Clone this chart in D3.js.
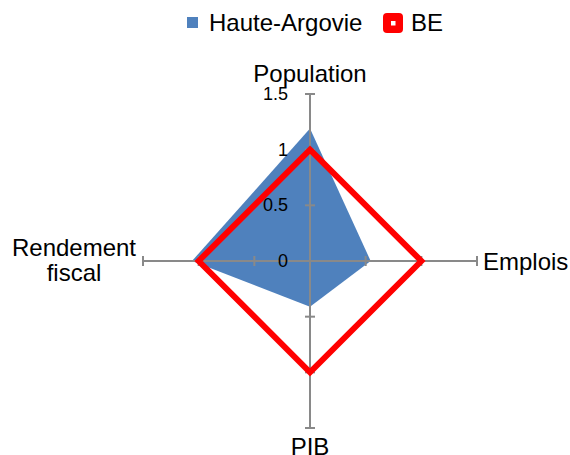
<!DOCTYPE html>
<html><head><meta charset="utf-8">
<script src="https://cdn.jsdelivr.net/npm/d3@7"></script>
<style>body{margin:0;background:#fff}svg{display:block}text{font-family:"Liberation Sans",Arial,sans-serif;fill:#000}</style>
</head><body>
<svg id="c" width="570" height="455"></svg>
<script>
const axes = ["Population", "Emplois", "PIB", "Rendement fiscal"];
const hauteArgovie = [1.19, 0.545, 0.41, 1.06];
const be = [1, 1, 1, 1];
const ticks = [0, 0.5, 1, 1.5];
const seriesNames = ["Haute-Argovie", "BE"];

const svg = d3.select("#c");
const cx = 310, cy = 261, R = 167;
const r = d3.scaleLinear().domain([0, 1.5]).range([0, R]);
const ang = d3.scalePoint().domain(axes).range([0, 2*Math.PI*(axes.length-1)/axes.length]);
const pt = (a, v) => [cx + r(v)*Math.sin(ang(a)), cy - r(v)*Math.cos(ang(a))];

const g = svg.append("g");
const line = d3.line().curve(d3.curveLinearClosed);
g.append("path").attr("d", line(axes.map((a,i)=>pt(a, hauteArgovie[i])))).attr("fill", "#4F81BD");

const grey = "#898989";
axes.forEach(a => {
  const [x1,y1] = pt(a,0), [x2,y2] = pt(a,1.5);
  g.append("line").attr("x1",x1).attr("y1",y1).attr("x2",x2).attr("y2",y2).attr("stroke",grey).attr("stroke-width",2);
  ticks.slice(1).forEach(t => {
    const [px,py] = pt(a,t);
    const th = ang(a);
    const dx = Math.cos(th)*5, dy = Math.sin(th)*5;
    g.append("line").attr("x1",px-dx).attr("y1",py-dy).attr("x2",px+dx).attr("y2",py+dy).attr("stroke",grey).attr("stroke-width",2);
  });
});

g.append("path").attr("d", line(axes.map((a,i)=>pt(a, be[i])))).attr("fill","none").attr("stroke","#FF0000").attr("stroke-width",6).attr("stroke-linejoin","miter");

ticks.forEach(t => {
  const [px,py] = pt(axes[0], t);
  g.append("text").attr("x", px-22).attr("y", py+6).attr("text-anchor","end").style("font-size","18px").text(t);
});

const fs = "24px";
g.append("text").attr("x",cx).attr("y",82).attr("text-anchor","middle").style("font-size",fs).text(axes[0]);
g.append("text").attr("x",483).attr("y",270).attr("text-anchor","start").style("font-size",fs).text(axes[1]);
g.append("text").attr("x",cx).attr("y",455).attr("text-anchor","middle").style("font-size",fs).text(axes[2]);
const rf = g.append("text").attr("y",256).attr("text-anchor","middle").style("font-size",fs);
const parts = axes[3].split(" ");
rf.append("tspan").attr("x",74).text(parts[0]);
rf.append("tspan").attr("x",74).attr("dy",25).text(parts[1]);

const lg = svg.append("g");
lg.append("rect").attr("x",187).attr("y",17).attr("width",11).attr("height",11).attr("fill","#4F81BD");
lg.append("text").attr("x",209).attr("y",31).style("font-size",fs).text(seriesNames[0]);
lg.append("rect").attr("x",383).attr("y",13).attr("width",20).attr("height",20).attr("rx",4).attr("fill","#FF0000");
lg.append("rect").attr("x",391).attr("y",21).attr("width",4.5).attr("height",4.5).attr("fill","#fff");
lg.append("text").attr("x",411).attr("y",31).style("font-size",fs).text(seriesNames[1]);
</script>
</body></html>
